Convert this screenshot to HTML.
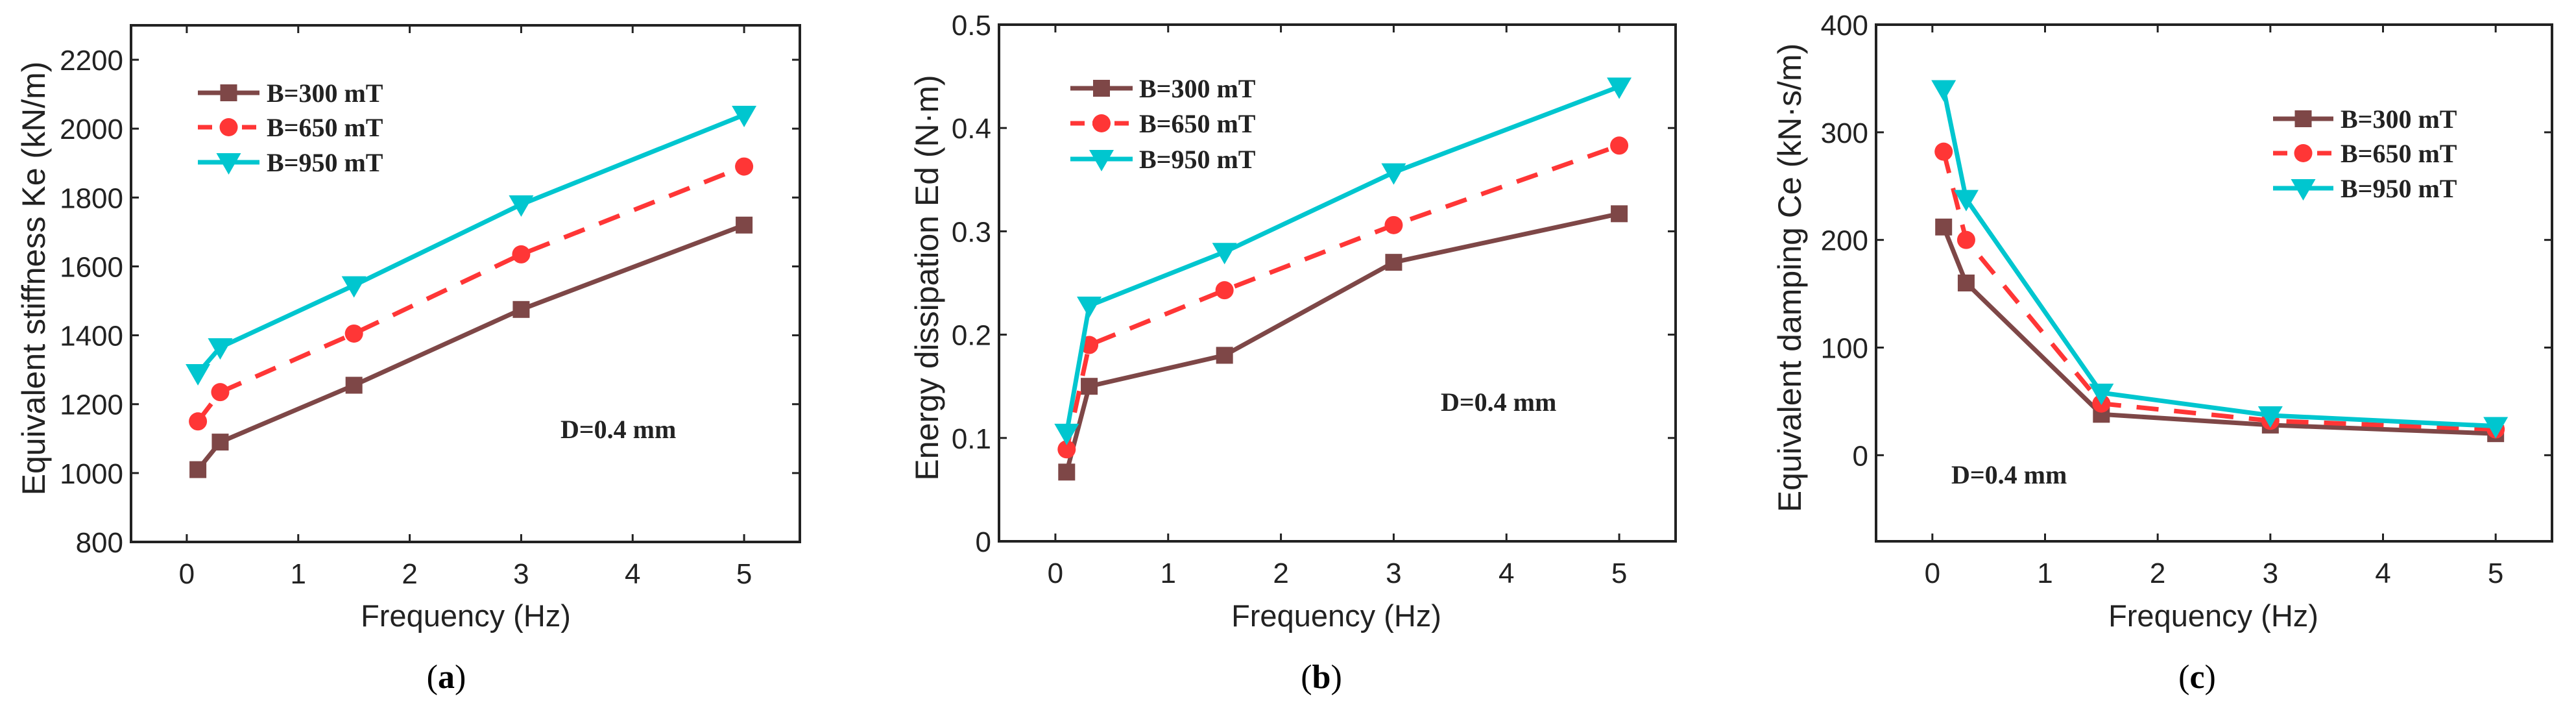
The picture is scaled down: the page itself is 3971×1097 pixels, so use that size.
<!DOCTYPE html>
<html><head><meta charset="utf-8"><style>
html,body{margin:0;padding:0;background:#fff;}
svg{display:block;}
</style></head><body>
<svg id="fig" width="3971" height="1097" viewBox="0 0 3971 1097" xmlns="http://www.w3.org/2000/svg"></svg>
<script>
const freqs = [0.1, 0.3, 1.5, 3, 5];
const xTicks = [0, 1, 2, 3, 4, 5];
const seriesNames = ["B=300 mT", "B=650 mT", "B=950 mT"];
const stiff300 = [1010, 1090, 1255, 1475, 1720];
const stiff650 = [1150, 1235, 1405, 1635, 1890];
const stiff950 = [1290, 1365, 1545, 1780, 2040];
const energy300 = [0.067, 0.15, 0.18, 0.27, 0.317];
const energy650 = [0.089, 0.19, 0.243, 0.306, 0.383];
const energy950 = [0.105, 0.228, 0.28, 0.357, 0.44];
const damp300 = [212, 160, 38, 28, 20];
const damp650 = [282, 200, 48, 32, 24];
const damp950 = [340, 238, 58, 37, 27];
const stiffTicks = [800, 1000, 1200, 1400, 1600, 1800, 2000, 2200];
const energyTicks = [0, 0.1, 0.2, 0.3, 0.4, 0.5];
const dampTicks = [0, 100, 200, 300, 400];

const NS = "http://www.w3.org/2000/svg";
const svg = document.getElementById("fig");
const colors = ["#7e4747", "#ff3636", "#00c6cf"];
function mk(tag, attrs, parent){const e=document.createElementNS(NS,tag);for(const k in attrs)e.setAttribute(k,attrs[k]);(parent||svg).appendChild(e);return e;}

const panels = [
 {id:"a", L:202, R:1233, T:39, B:835, ymin:800, ymax:2300, xmin:-0.5, xmax:5.5, ticks:stiffTicks, fmt:v=>String(v),
  data:[stiff300,stiff650,stiff950], ylab:"Equivalent stiffness Ke (kN/m)", ylx:52,
  leg:{x1:305,x2:400,tx:411,ys:[143,196,250]}, note:{x:864,y:661}, xlx:718, sub:688},
 {id:"b", L:1540, R:2583, T:38, B:834, ymin:0, ymax:0.5, xmin:-0.5, xmax:5.5, ticks:energyTicks, fmt:v=>String(v),
  data:[energy300,energy650,energy950], ylab:"Energy dissipation Ed (N·m)", ylx:1429,
  leg:{x1:1650,x2:1746,tx:1756,ys:[136,190,245]}, note:{x:2221,y:619}, xlx:2060, sub:2037},
 {id:"c", L:2892, R:3934, T:38, B:834, ymin:-80, ymax:400, xmin:-0.5, xmax:5.5, ticks:dampTicks, fmt:v=>String(v),
  data:[damp300,damp650,damp950], ylab:"Equivalent damping Ce (kN·s/m)", ylx:2759,
  leg:{x1:3504,x2:3597,tx:3608,ys:[183,236,290]}, note:{x:3008,y:731}, xlx:3412, sub:3387}
];

function marker(g, k, x, y){
  let m;
  if(k===0){m=mk("rect",{x:x-13,y:y-13,width:26,height:26,fill:colors[0]},g);}
  else if(k===1){m=mk("circle",{cx:x,cy:y,r:14,fill:colors[1]},g);}
  else {m=mk("polygon",{points:`${x-19},${y-14} ${x+19},${y-14} ${x},${y+19}`,fill:colors[2]},g);}
  return m;
}

panels.forEach(p=>{
  const g = mk("g",{});
  
  
  const sx = v => p.L + (v - p.xmin)/(p.xmax-p.xmin)*(p.R-p.L);
  const sy = v => p.B - (v - p.ymin)/(p.ymax-p.ymin)*(p.B-p.T);
  xTicks.forEach(t=>{
    const x=sx(t);
    mk("line",{x1:x,y1:p.B,x2:x,y2:p.B-12,stroke:"#222","stroke-width":3},g);
    mk("line",{x1:x,y1:p.T,x2:x,y2:p.T+12,stroke:"#222","stroke-width":3},g);
    const tl=mk("text",{x:x,y:p.B+64,"text-anchor":"middle","font-family":"Liberation Sans, sans-serif","font-size":44,fill:"#222"},g);
    tl.textContent=t;
    
    
  });
  p.ticks.forEach(t=>{
    const y=sy(t);
    mk("line",{x1:p.L,y1:y,x2:p.L+12,y2:y,stroke:"#222","stroke-width":3},g);
    mk("line",{x1:p.R,y1:y,x2:p.R-12,y2:y,stroke:"#222","stroke-width":3},g);
    const tl=mk("text",{x:p.L-12,y:y+16,"text-anchor":"end","font-family":"Liberation Sans, sans-serif","font-size":44,fill:"#222"},g);
    tl.textContent=p.fmt(t);
    
    
  });
  const box=mk("rect",{x:p.L,y:p.T,width:p.R-p.L,height:p.B-p.T,fill:"none",stroke:"#222","stroke-width":4},g);
  
  
  p.data.forEach((vals,k)=>{
    const sg=mk("g",{},g);
    
    
    const pts=vals.map((v,i)=>sx(freqs[i])+","+sy(v)).join(" ");
    const attrs={points:pts,fill:"none",stroke:colors[k],"stroke-width":7,"stroke-linejoin":"round"};
    if(k===1) attrs["stroke-dasharray"]="34 24";
    mk("polyline",attrs,sg);
    vals.forEach((v,i)=>{
      const m=marker(sg,k,sx(freqs[i]),sy(v));
      
      
    });
  });
  const lg=mk("g",{},g);
  
  
  seriesNames.forEach((n,k)=>{
    const y=p.leg.ys[k];
    const la={x1:p.leg.x1,y1:y,x2:p.leg.x2,y2:y,stroke:colors[k],"stroke-width":7};
    if(k===1) la["stroke-dasharray"]="22 12";
    mk("line",la,lg);
    marker(lg,k,(p.leg.x1+p.leg.x2)/2,y);
    const t=mk("text",{x:p.leg.tx,y:y+14,"font-family":"Liberation Serif, serif","font-weight":"bold","font-size":40,fill:"#222"},lg);
    t.textContent=n;
    
    
  });
  const note=mk("text",{x:p.note.x,y:p.note.y+14,"font-family":"Liberation Serif, serif","font-weight":"bold","font-size":40,fill:"#222"},g);
  note.textContent="D=0.4 mm";
  
  
  const yl=mk("text",{x:0,y:0,"text-anchor":"middle","font-family":"Liberation Sans, sans-serif","font-size":50,fill:"#222",transform:`translate(${p.ylx+17},${(p.T+p.B)/2-8}) rotate(-90)`},g);
  yl.textContent=p.ylab;
  
  
  const xl=mk("text",{x:p.xlx,y:965,"text-anchor":"middle","font-family":"Liberation Sans, sans-serif","font-size":47,fill:"#222"},g);
  xl.textContent="Frequency (Hz)";
  
  
  const sub=mk("text",{x:p.sub,y:1060,"text-anchor":"middle","font-family":"Liberation Serif, serif","font-size":52,fill:"#000"},g);
  sub.innerHTML='(<tspan font-weight="bold">'+p.id+'</tspan>)';
  
  
});
</script>
</body></html>
